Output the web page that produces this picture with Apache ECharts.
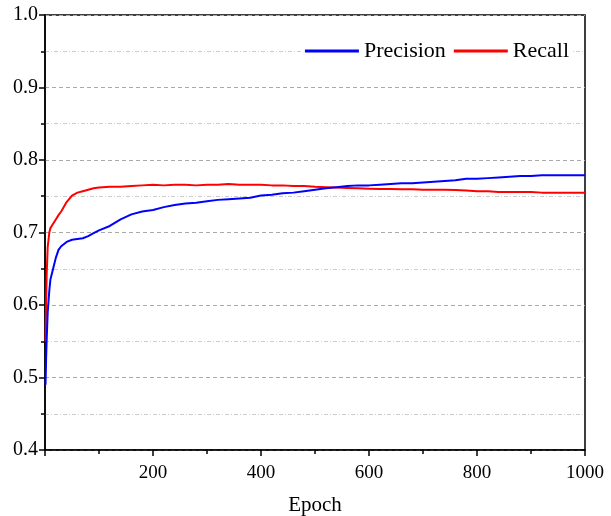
<!DOCTYPE html>
<html>
<head>
<meta charset="utf-8">
<script src="https://cdn.jsdelivr.net/npm/echarts@6/dist/echarts.min.js"></script>
<style>html,body{margin:0;padding:0;background:#fff}#c{width:611px;height:516px}</style>
</head>
<body>
<div id="c"></div>
<script>
var epochs = [1,2,3,5,8,10,15,20,25,30,40,50,60,70,80,90,100,120,140,160,180,200,220,240,260,280,300,320,340,360,380,400,420,440,460,480,500,520,540,560,580,600,620,640,660,680,700,720,740,760,780,800,820,840,860,880,900,920,940,960,980,1000];
var precision = [0.490,0.525,0.550,0.590,0.620,0.635,0.650,0.665,0.676,0.681,0.687,0.690,0.691,0.692,0.695,0.699,0.703,0.709,0.718,0.725,0.729,0.731,0.735,0.738,0.740,0.741,0.743,0.745,0.746,0.747,0.748,0.751,0.752,0.754,0.755,0.757,0.759,0.761,0.7625,0.764,0.765,0.765,0.766,0.767,0.768,0.768,0.769,0.770,0.771,0.772,0.774,0.774,0.775,0.776,0.777,0.778,0.778,0.779,0.779,0.779,0.779,0.779];
var recall = [0.550,0.600,0.640,0.680,0.700,0.706,0.712,0.718,0.724,0.729,0.742,0.751,0.755,0.757,0.759,0.761,0.762,0.763,0.763,0.764,0.765,0.766,0.765,0.766,0.766,0.765,0.766,0.766,0.767,0.766,0.766,0.766,0.765,0.765,0.764,0.764,0.763,0.7625,0.762,0.7615,0.761,0.7605,0.760,0.760,0.7598,0.7595,0.759,0.759,0.7588,0.7585,0.758,0.757,0.757,0.756,0.756,0.756,0.756,0.755,0.755,0.755,0.755,0.755];
var seriesNames = ['Precision','Recall'];
var xName = 'Epoch';

var chart = echarts.init(document.getElementById('c'));
var font = 'Liberation Serif';
function pairs(ys){ return epochs.map(function(e,i){return [e, ys[i]];}); }
chart.setOption({
  animation:false,
  backgroundColor:'#fff',
  grid:{left:45,right:26,top:15,bottom:66,outerBoundsMode:'none',containLabel:false,show:true,borderColor:'#000',borderWidth:1.5,backgroundColor:'transparent'},
  legend:{
    data:seriesNames, right:38, top:38, icon:'rect', itemWidth:54, itemHeight:3, itemGap:8,
    backgroundColor:'#fff', padding:[2,4,2,4],
    textStyle:{fontFamily:font,fontSize:22,color:'#000'}
  },
  xAxis:{
    type:'value', min:0, max:1000, interval:200,
    name:xName, nameLocation:'middle', nameGap:45,
    nameTextStyle:{fontFamily:font,fontSize:21,color:'#000'},
    axisLine:{lineStyle:{color:'#000',width:1.5}},
    axisTick:{length:6,lineStyle:{color:'#000',width:1.5}},
    minorTick:{show:true,splitNumber:2,length:4,lineStyle:{color:'#000',width:1.5}},
    axisLabel:{showMinLabel:false,margin:14,fontFamily:font,fontSize:19,color:'#000',formatter:function(v){return String(v);}},
    splitLine:{show:false}
  },
  yAxis:{
    type:'value', min:0.4, max:1.0, interval:0.1,
    axisLine:{show:true,lineStyle:{color:'#000',width:1.5}},
    axisTick:{show:true,length:6,lineStyle:{color:'#000',width:1.5}},
    minorTick:{show:true,splitNumber:2,length:4,lineStyle:{color:'#000',width:1.5}},
    axisLabel:{margin:7,fontFamily:font,fontSize:20,color:'#000',formatter:function(v){return v.toFixed(1);}},
    splitLine:{show:true,lineStyle:{color:'#aaa',type:[4,3],width:1}},
    minorSplitLine:{show:true,lineStyle:{color:'#ccc',type:[4,2,1,2],width:1}}
  },
  series:[
    {name:seriesNames[0],type:'line',data:pairs(precision),showSymbol:false,lineStyle:{color:'#0000ff',width:2},itemStyle:{color:'#0000ff'},z:3},
    {name:seriesNames[1],type:'line',data:pairs(recall),showSymbol:false,lineStyle:{color:'#ff0000',width:2},itemStyle:{color:'#ff0000'},z:2}
  ]
});
</script>
</body>
</html>
